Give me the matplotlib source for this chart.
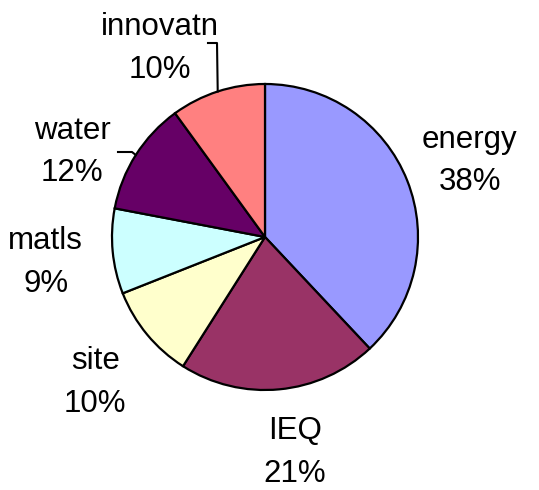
import numpy as np
import matplotlib
matplotlib.use("Agg")
import matplotlib.pyplot as plt

# Datos del gráfico
categorias = ["energy", "IEQ", "site", "matls", "water", "innovatn"]
porcentajes = [38, 21, 10, 9, 12, 10]
colores = ["#9999FF", "#993366", "#FFFFCC", "#CCFFFF", "#660066", "#FF8080"]

plt.rcParams["font.family"] = ["Liberation Sans", "DejaVu Sans"]

fig = plt.figure(figsize=(5.39, 4.9), dpi=100)
ax = fig.add_axes([0, 0, 1, 1])

centro = (265, 253)
radio = 153

wedges, _ = ax.pie(porcentajes, colors=colores, startangle=90, counterclock=False,
                   center=centro, radius=radio,
                   wedgeprops=dict(edgecolor="black", linewidth=1.6))

# etiquetas desplazadas (ángulo, distancia relativa al radio)
desplazadas = {"water": (155, 1.39), "innovatn": (118.5, 1.44), "IEQ": (-82, 1.39)}
# lineas guía: punto de quiebre y final
guias = {"water": [(132, 338), (118, 338)], "innovatn": [(217, 447), (208, 447)]}
bajar = 5  # ajuste vertical de las etiquetas

for w, nombre, pct in zip(wedges, categorias, porcentajes):
    ang = (w.theta1 + w.theta2) / 2
    dist = 1.44
    if nombre in desplazadas:
        ang_l, dist = desplazadas[nombre]
    else:
        ang_l = ang
    x = centro[0] + dist * radio * np.cos(np.radians(ang_l))
    y = centro[1] + dist * radio * np.sin(np.radians(ang_l)) - bajar
    ax.text(x, y, f"{nombre}\n{pct}%", ha="center", va="center", fontsize=22.5,
            linespacing=1.55, color="black")
    if nombre in guias:
        ex = centro[0] + radio * np.cos(np.radians(ang))
        ey = centro[1] + radio * np.sin(np.radians(ang))
        pts = [(ex, ey)] + guias[nombre]
        ax.plot([p[0] for p in pts], [p[1] for p in pts], color="black", lw=1.5)

ax.set_xlim(0, 539)
ax.set_ylim(0, 490)
ax.set_aspect("equal")
ax.axis("off")

fig.savefig("out.png", dpi=100)
